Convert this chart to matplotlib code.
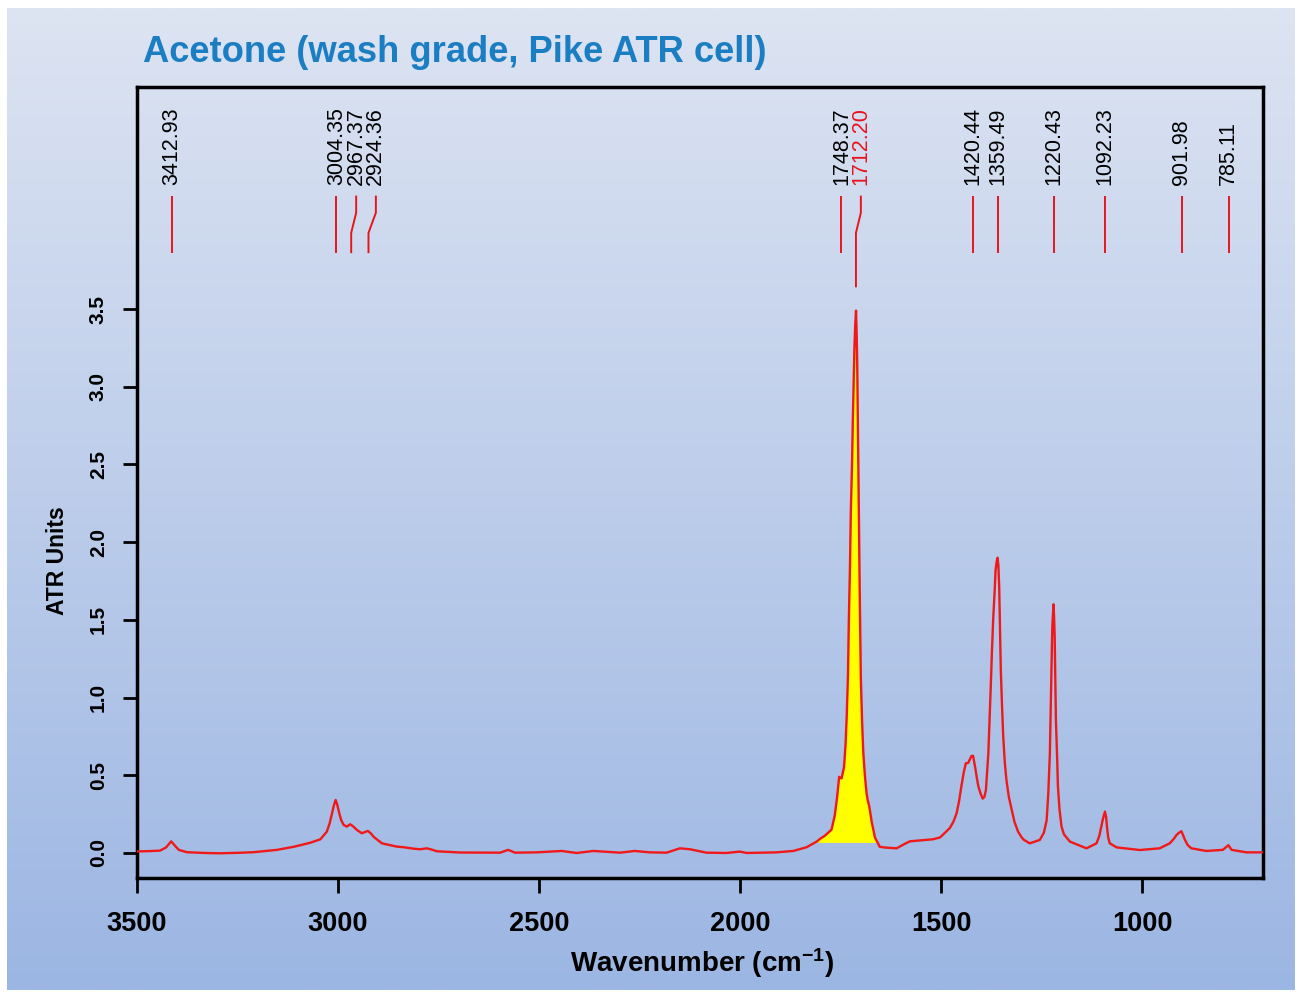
import numpy as np
import matplotlib.pyplot as plt

plt.rcParams['font.family'] = ['Liberation Sans', 'DejaVu Sans']
plt.rcParams['mathtext.fontset'] = 'custom'
plt.rcParams['mathtext.bf'] = 'Liberation Sans:bold'
plt.rcParams['mathtext.rm'] = 'Liberation Sans:bold'
plt.rcParams['mathtext.default'] = 'bf'

# spectrum (wavenumber cm-1, ATR units)
wavenumber = [3500, 3470, 3443, 3428, 3415, 3405, 3396, 3376, 3330, 3294, 3250, 3210,
              3152, 3110, 3069, 3044, 3028, 3021, 3015, 3010, 3006, 3002, 2997, 2992,
              2986, 2978, 2970, 2962, 2953, 2941, 2933, 2926, 2918, 2912, 2891, 2854,
              2837, 2810, 2796, 2779, 2765, 2754, 2697, 2597, 2577, 2560, 2506, 2444,
              2407, 2365, 2341, 2299, 2262, 2225, 2183, 2150, 2125, 2084, 2034, 2001,
              1984, 1910, 1868, 1835, 1810, 1802, 1790, 1773, 1765, 1759, 1754, 1748,
              1742, 1738, 1735, 1732, 1730, 1727, 1725, 1722, 1720, 1718, 1716, 1714,
              1712, 1710.5, 1709, 1707.5, 1706, 1704.5, 1703, 1701.5, 1700, 1697, 1694,
              1690, 1686, 1683, 1679, 1673, 1665, 1653, 1640, 1611, 1590, 1578, 1521,
              1503, 1479, 1470, 1462, 1456, 1450, 1444, 1439, 1433, 1425, 1421, 1416,
              1412, 1408, 1402, 1397, 1393, 1389, 1383, 1380, 1377, 1374, 1371, 1367,
              1365, 1362, 1360, 1358, 1356, 1354, 1352, 1349, 1346, 1342, 1338, 1332,
              1325, 1318, 1309, 1300, 1295, 1280, 1255, 1245, 1238, 1234, 1230, 1228,
              1226, 1224, 1221, 1219.5, 1218, 1216.5, 1215, 1212, 1210, 1206, 1201,
              1195, 1180, 1139, 1114, 1107, 1102, 1098, 1093, 1090, 1088, 1085, 1081,
              1064, 1006, 957, 932, 922, 915, 909, 903, 898, 894, 887, 878, 841, 800,
              786, 778, 741, 700]
absorbance = [0.010, 0.012, 0.015, 0.035, 0.075, 0.045, 0.020, 0.005, 0.000, -0.002, 0.001, 0.005,
              0.020, 0.040, 0.066, 0.088, 0.137, 0.190, 0.255, 0.310, 0.341, 0.310, 0.255, 0.210,
              0.180, 0.170, 0.185, 0.170, 0.148, 0.127, 0.135, 0.142, 0.125, 0.105, 0.062, 0.041,
              0.037, 0.027, 0.024, 0.030, 0.020, 0.011, 0.003, 0.002, 0.020, 0.002, 0.004, 0.013,
              0.000, 0.013, 0.009, 0.002, 0.013, 0.004, 0.002, 0.030, 0.024, 0.002, 0.000, 0.009,
              0.000, 0.004, 0.013, 0.037, 0.073, 0.090, 0.110, 0.150, 0.240, 0.360, 0.490, 0.480,
              0.550, 0.700, 0.890, 1.150, 1.480, 1.850, 2.190, 2.500, 2.780, 3.000, 3.250, 3.400,
              3.490, 3.350, 3.140, 2.800, 2.430, 2.050, 1.720, 1.400, 1.120, 0.850, 0.650,
              0.500, 0.390, 0.340, 0.300, 0.200, 0.100, 0.040, 0.035, 0.030, 0.060, 0.075, 0.088,
              0.100, 0.160, 0.200, 0.255, 0.330, 0.430, 0.520, 0.577, 0.580, 0.624, 0.625, 0.555,
              0.490, 0.430, 0.380, 0.350, 0.360, 0.405, 0.640, 0.850, 1.070, 1.300, 1.500, 1.700,
              1.820, 1.880, 1.900, 1.850, 1.710, 1.450, 1.180, 0.950, 0.750, 0.580, 0.470, 0.360,
              0.280, 0.200, 0.137, 0.100, 0.085, 0.062, 0.084, 0.130, 0.210, 0.380, 0.640, 0.900,
              1.180, 1.450, 1.600, 1.520, 1.390, 1.100, 0.860, 0.620, 0.430, 0.280, 0.170,
              0.120, 0.073, 0.030, 0.062, 0.110, 0.170, 0.220, 0.266, 0.230, 0.170, 0.100, 0.062,
              0.036, 0.019, 0.030, 0.062, 0.090, 0.116, 0.130, 0.140, 0.110, 0.084, 0.050, 0.030,
              0.013, 0.020, 0.050, 0.020, 0.004, 0.004]

peak_wn = [3412.93, 3004.35, 2967.37, 2924.36, 1748.37, 1712.20,
           1420.44, 1359.49, 1220.43, 1092.23, 901.98, 785.11]
# where the labels sit after being spread apart
label_wn = [3412.93, 3004.35, 2955.0, 2906.0, 1748.37, 1700.0,
            1420.44, 1359.49, 1220.43, 1092.23, 901.98, 785.11]
highlight = 1712.20

xticks = [3500, 3000, 2500, 2000, 1500, 1000]
yticks = [0.0, 0.5, 1.0, 1.5, 2.0, 2.5, 3.0, 3.5]

W, H = 1300, 993
fig = plt.figure(figsize=(W / 100, H / 100), dpi=100, facecolor='white')

# gradient backdrop
bg = fig.add_axes([7 / W, 3 / H, (W - 12) / W, (H - 11) / H])
top = np.array([221, 228, 242]) / 255
bot = np.array([156, 182, 227]) / 255
t = np.linspace(0, 1, 256)[:, None]
grad = (top[None, :] * (1 - t) + bot[None, :] * t)[:, None, :]
bg.imshow(grad, aspect='auto', extent=[0, 1, 0, 1], interpolation='bilinear')
bg.set_axis_off()

ax = fig.add_axes([137 / W, 1 - 878 / H, 1126 / W, 791 / H])
ax.set_facecolor('none')

wn = np.array(wavenumber)
ab = np.array(absorbance)
base = 0.068
ax.fill_between(wn, ab, base, where=(wn <= 1802) & (wn >= 1653) & (ab >= base),
                interpolate=True, color='#ffff00', lw=0, zorder=2)
ax.plot(wn, ab, color='#f01818', lw=1.7, zorder=3, solid_joinstyle='round')

red = '#e8141c'
for p, l in zip(peak_wn, label_wn):
    y0 = 3.64 if p == highlight else 3.86
    ax.plot([p, p, l, l], [y0, 3.99, 4.12, 4.23], color=red, lw=1.4,
            solid_capstyle='butt', zorder=3)
    ax.text(l, 4.30, f"{p:.2f}", rotation=90, ha='center', va='bottom',
            fontsize=15.5, color=red if p == highlight else 'black')

ax.set_xlim(3500, 700)
ax.set_ylim(-0.161, 4.929)
ax.set_xticks(xticks)
ax.set_xticklabels([str(v) for v in xticks], fontsize=19.5, fontweight='bold')
ax.set_yticks(yticks)
ax.set_yticklabels([f"{v:.1f}" for v in yticks], fontsize=15, fontweight='bold',
                   rotation=90, va='center')
ax.tick_params(axis='x', direction='out', length=11, width=2, pad=13)
ax.tick_params(axis='y', direction='out', length=10, width=2, pad=11)
for s in ax.spines.values():
    s.set_linewidth(2.5)

fig.text(143 / W, 1 - 52 / H, "Acetone (wash grade, Pike ATR cell)", fontsize=26.2,
         fontweight='bold', color='#1b7ec3', ha='left', va='center')
fig.text(702 / W, 1 - 963 / H, r"Wavenumber (cm$^{-1}$)", fontsize=20,
         fontweight='bold', ha='center', va='center')
fig.text(58 / W, 1 - 561 / H, "ATR Units", fontsize=16.5, fontweight='bold',
         rotation=90, ha='center', va='center')

fig.savefig('out.png', dpi=100)
